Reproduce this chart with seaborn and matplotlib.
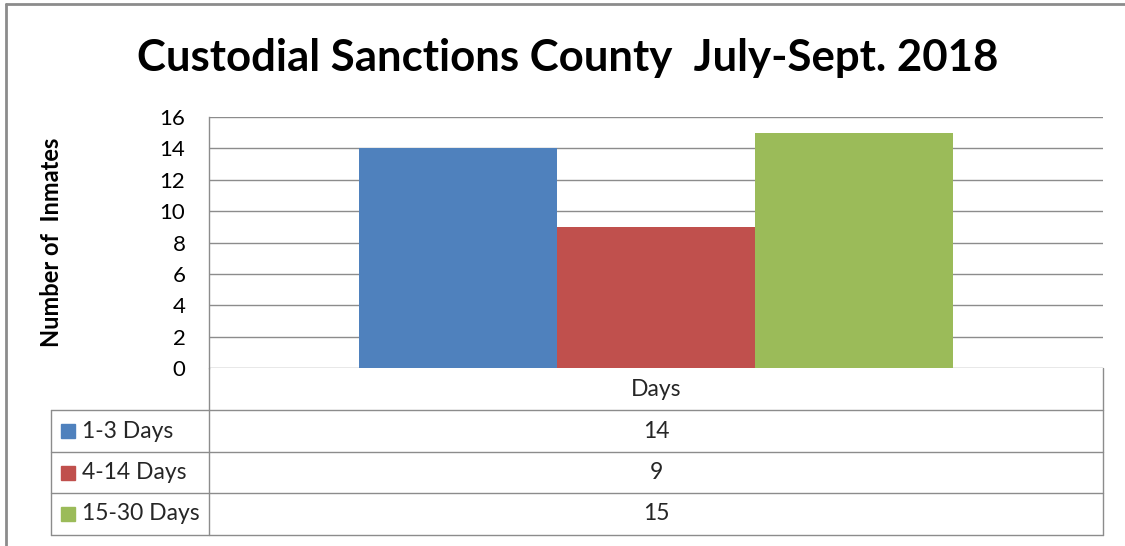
import numpy as np
import pandas as pd
import matplotlib.pyplot as plt
import seaborn as sns
from matplotlib.lines import Line2D
from matplotlib.patches import Rectangle

# Dados do grafico
category = "Days"
series = ["1-3 Days", "4-14 Days", "15-30 Days"]
inmates = [14, 9, 15]
colors = ["#4F81BD", "#C0504D", "#9BBB59"]
yticks = [0, 2, 4, 6, 8, 10, 12, 14, 16]
title = "Custodial Sanctions County  July-Sept. 2018"
ylabel = "Number of  Inmates"

sns.set_theme(style="white")
plt.rcParams['font.family'] = ['Lato', 'DejaVu Sans']

df = pd.DataFrame({"cat": [category] * len(series), "series": series, "value": inmates})

W, H = 1125, 546
fig = plt.figure(figsize=(W / 100, H / 100), dpi=100)


def fx(px):
    return px / W


def fy(py):
    return 1 - py / H


grid_c = "#8c8c8c"
left, right, top, bottom = 209, 1103, 117, 368

# Grafico de barras
ax = fig.add_axes([fx(left), fy(bottom), (right - left) / W, (bottom - top) / H])
sns.barplot(data=df, x="cat", y="value", hue="series", hue_order=series,
            palette=colors, width=594 / 894, saturation=1, linewidth=0,
            legend=False, ax=ax)
ax.set_xlim(-0.5, 0.5)
ax.set_ylim(0, 16)
ax.set_yticks(yticks)
ax.yaxis.grid(True, color=grid_c, lw=1)
ax.set_axisbelow(True)
for s in ["top", "right", "bottom"]:
    ax.spines[s].set_visible(False)
ax.spines["left"].set_color(grid_c)
ax.spines["left"].set_linewidth(1)
ax.set_xticks([])
ax.set_xlabel("")
ax.tick_params(axis="y", length=0, pad=17, labelsize=16, labelcolor="black")
ax.set_ylabel(ylabel, fontsize=17, fontweight="bold", color="black")
ax.yaxis.set_label_coords((63 - left) / (right - left), 0.5)

# Titulo
fig.text(fx(568), fy(58), title, ha="center", va="center",
         fontsize=31.5, fontweight="bold", color="black")

# Tabela de dados
rows_y = [368, 410, 452, 493, 535]
lw = 1
fig.add_artist(Line2D([fx(left), fx(left)], [fy(368), fy(535)], color=grid_c, lw=lw))
fig.add_artist(Line2D([fx(right), fx(right)], [fy(368), fy(535)], color=grid_c, lw=lw))
fig.add_artist(Line2D([fx(51), fx(51)], [fy(410), fy(535)], color=grid_c, lw=lw))
for y in rows_y[1:]:
    fig.add_artist(Line2D([fx(51), fx(right)], [fy(y), fy(y)], color=grid_c, lw=lw))

cx = (left + right) / 2
fs = 16.5
fig.text(fx(cx), fy((rows_y[0] + rows_y[1]) / 2), category, ha="center", va="center", fontsize=fs)
for i, (name, val, col) in enumerate(zip(series, inmates, colors)):
    yc = (rows_y[i + 1] + rows_y[i + 2]) / 2
    fig.text(fx(cx), fy(yc), str(val), ha="center", va="center", fontsize=fs)
    fig.add_artist(Rectangle((fx(61), fy(yc + 7)), 14 / W, 14 / H, color=col,
                             transform=fig.transFigure))
    fig.text(fx(82), fy(yc), name, ha="left", va="center", fontsize=fs)

# Borda externa
fig.add_artist(Line2D([fx(6), fx(6)], [fy(4), fy(H)], color=grid_c, lw=2))
fig.add_artist(Line2D([fx(6), fx(W)], [fy(4), fy(4)], color=grid_c, lw=2))

fig.savefig("out.png", dpi=100)
